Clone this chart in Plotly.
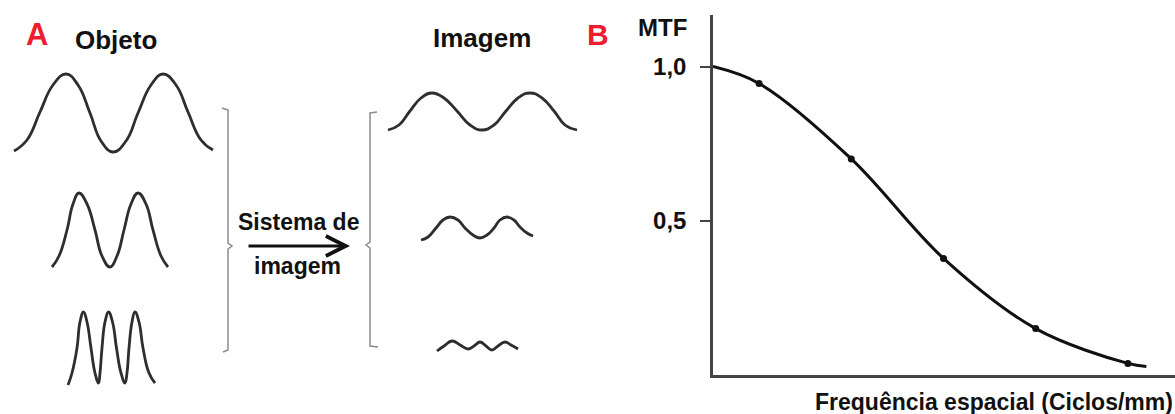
import plotly.graph_objects as go

W, H = 1175, 414

# ---------------- data ----------------
# Panel A: object waves (drawing coordinates: extrema, shoulders, mid-level crossings)
obj1_x = [14, 27, 40, 53, 66, 78, 90, 101, 113, 126, 138, 151, 163, 176, 188, 201, 213]
obj1_y = [151, 140, 112, 85, 74, 85, 113, 141, 152, 141, 113, 85, 74, 85, 112, 140, 150]
obj2_x = [52, 59, 67, 73, 79, 87, 95, 102, 110, 117, 124, 131, 138, 146, 153, 161, 168]
obj2_y = [267, 256, 230, 204, 193, 204, 230, 256, 267, 256, 230, 204, 193, 204, 230, 256, 267]
obj3_x = [68, 72, 77, 80, 83.5, 87, 91, 95, 98.5, 100, 102, 105, 108.5,
          112.5, 116.5, 121, 125, 127, 129, 132, 135, 139, 143, 149, 155]
obj3_y = [385, 373, 348, 322, 312, 322, 348, 373, 383, 373, 348, 322, 312,
          322, 348, 373, 383, 373, 348, 322, 312, 322, 348, 373, 383]

# Panel A: image waves
img1_x = [388, 399, 410, 421, 432, 444, 457, 470, 482, 494, 506, 518, 530, 542, 554, 565, 577]
img1_y = [130, 125, 111, 98, 93, 98, 111, 125, 130, 125, 111, 98, 93, 98, 111, 125, 130]
img2_x = [421, 428, 436, 443, 450, 458, 465, 473, 480, 487, 494, 500, 507, 514, 520, 527, 533]
img2_y = [240, 237, 228, 220, 217, 220, 228, 235, 238, 235, 228, 220, 217, 220, 227, 233, 236]
img3_x = [437, 444, 452, 460, 468, 474, 480, 486, 492, 498, 505, 511, 518]
img3_y = [351, 346, 341, 345, 349, 346, 342, 346, 350, 346, 342, 345, 349]

# Brackets
brk_left_x = [222, 228, 228, 232, 228, 228, 223]
brk_left_y = [108, 110, 243, 246, 249, 350, 352]
brk_right_x = [377, 370, 370, 366, 370, 370, 378]
brk_right_y = [112, 113, 242, 245, 248, 346, 347]

# Arrow (start / end)
arrow_x = [247, 350]
arrow_y = [246, 246]

# Panel B: MTF curve
freq = [0, 0.5, 1.5, 2.5, 3.5, 4.5, 4.7]
mtf = [1.0, 0.945, 0.70, 0.377, 0.149, 0.036, 0.026]
pts_freq = [0.5, 1.5, 2.5, 3.5, 4.5]
pts_mtf = [0.945, 0.70, 0.377, 0.149, 0.036]
ytick_vals = [0.5, 1.0]
ytick_text = ["0,5", "1,0"]

# ---------------- figure ----------------
FONT = "Liberation Sans, Arial, sans-serif"
TXT = "#111111"
WAVE = "#2e2e2e"


def px(x):
    return x / W


def py(y):
    return 1 - y / H


fig = go.Figure()

for xs, ys in [(obj1_x, obj1_y), (obj2_x, obj2_y), (obj3_x, obj3_y),
               (img1_x, img1_y), (img2_x, img2_y), (img3_x, img3_y)]:
    fig.add_trace(go.Scatter(x=xs, y=ys, mode="lines",
                             line=dict(color=WAVE, width=2.8, shape="spline", smoothing=1.3),
                             xaxis="x", yaxis="y", hoverinfo="skip", showlegend=False))

for xs, ys in [(brk_left_x, brk_left_y), (brk_right_x, brk_right_y)]:
    fig.add_trace(go.Scatter(x=xs, y=ys, mode="lines",
                             line=dict(color="#8c8c8c", width=1.5),
                             xaxis="x", yaxis="y", hoverinfo="skip", showlegend=False))

fig.add_trace(go.Scatter(x=freq, y=mtf, mode="lines",
                         line=dict(color="#111111", width=3, shape="spline", smoothing=1),
                         xaxis="x2", yaxis="y2", showlegend=False, cliponaxis=False))
fig.add_trace(go.Scatter(x=pts_freq, y=pts_mtf, mode="markers",
                         marker=dict(color="#111111", size=7),
                         xaxis="x2", yaxis="y2", showlegend=False, cliponaxis=False))

y0_px, ytop_px = 374.5, 15
fig.update_layout(
    width=W, height=H, autosize=False,
    margin=dict(l=0, r=0, t=0, b=0),
    paper_bgcolor="white", plot_bgcolor="rgba(0,0,0,0)",
    xaxis=dict(domain=[0, 1], range=[0, W], visible=False, fixedrange=True),
    yaxis=dict(domain=[0, 1], range=[H, 0], visible=False, fixedrange=True),
    xaxis2=dict(domain=[px(713), 1], range=[0, (W - 714) / 92], anchor="y2",
                showline=True, linecolor="#444444", linewidth=2.5,
                showticklabels=False, ticks="", showgrid=False, zeroline=False),
    yaxis2=dict(domain=[py(y0_px), py(ytop_px)],
                range=[0, (y0_px - ytop_px) / 308], anchor="x2",
                showline=True, linecolor="#444444", linewidth=2.5,
                tickvals=ytick_vals, ticktext=ytick_text,
                ticks="outside", ticklen=10, tickwidth=2, tickcolor="#444444",
                ticklabelstandoff=9,
                tickfont=dict(family=FONT, size=24, color=TXT, weight="bold"),
                showgrid=False, zeroline=False),
)


def label(text, x, y, size, color=TXT, xanchor="center"):
    fig.add_annotation(text=text, x=px(x), y=py(y), xref="paper", yref="paper",
                       xanchor=xanchor, yanchor="middle", showarrow=False,
                       font=dict(family=FONT, size=size, color=color, weight="bold"))


RED = "#ee1c2e"
label("A", 37, 34, 31, RED)
label("Objeto", 116, 40.5, 26)
label("Imagem", 482, 38, 26)
label("B", 598, 34, 30, RED)
label("MTF", 662, 28, 24)
label("Sistema de", 298, 222, 23)
label("imagem", 297, 266, 23)
label("Frequência espacial (Ciclos/mm)", 1175, 402, 23, xanchor="right")

fig.add_annotation(x=arrow_x[1], y=arrow_y[1], ax=arrow_x[0], ay=arrow_y[0],
                   xref="x", yref="y", axref="x", ayref="y",
                   showarrow=True, arrowhead=5, arrowsize=1.3, arrowwidth=3,
                   arrowcolor="#111111", text="", standoff=0)

fig.write_html(
    "out.html",
    config={"displayModeBar": False},
    post_script="document.body.style.margin='0px';document.body.style.overflow='hidden';",
)
